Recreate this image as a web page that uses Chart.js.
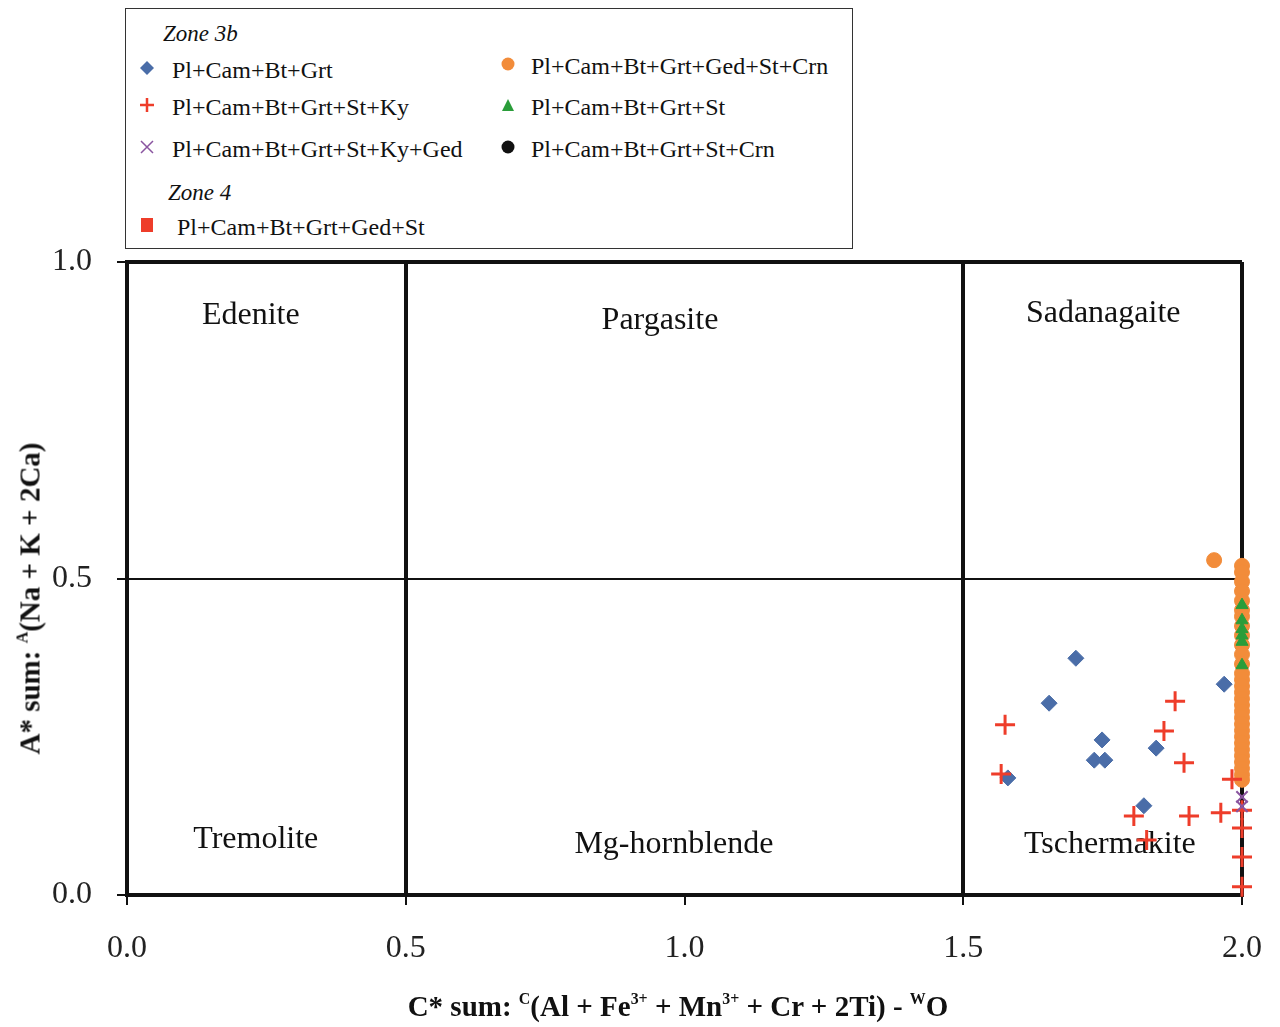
<!DOCTYPE html>
<html>
<head>
<meta charset="utf-8">
<script src="https://cdn.jsdelivr.net/npm/chart.js@4.4.1/dist/chart.umd.min.js"></script>
<style>
  body { margin: 0; background: #fff; }
  #wrap { position: relative; width: 1280px; height: 1027px; font-family: "Liberation Serif", "Times New Roman", serif; color: #111; }
  #chart { position: absolute; left: 0; top: 0; }
  #legend { position: absolute; left: 125px; top: 8px; width: 726px; height: 239px; border: 1.5px solid #333; background: #fff; }
  .lg { position: absolute; white-space: nowrap; line-height: 1; transform: translateY(-50%); font-family: "Liberation Serif", serif; }
  .lg.txt { font-size: 24px; }
  .lg.zone { font-size: 23px; font-style: italic; }
  .mk { position: absolute; transform: translate(-50%, -50%); }
  #xtitle { position: absolute; left: 378px; width: 600px; top: 990px; text-align: center; font-weight: bold; font-size: 29px; white-space: nowrap; }
  #ytitle { position: absolute; left: -170px; width: 400px; top: 582px; text-align: center; font-weight: bold; font-size: 29px; white-space: nowrap; transform: rotate(-90deg); }
  sup { font-size: 0.55em; vertical-align: 0.75em; line-height: 0; }
</style>
</head>
<body>
<div id="wrap">
  <canvas id="chart" width="1280" height="1027"></canvas>
  <div id="legend"></div>
  <div id="xtitle">C* sum: <sup>C</sup>(Al + Fe<sup>3+</sup> + Mn<sup>3+</sup> + Cr + 2Ti) - <sup>W</sup>O</div>
  <div id="ytitle">A* sum: <sup>A</sup>(Na + K + 2Ca)</div>
</div>
<script>
// --- Data ---
const xTicks = [0, 0.5, 1.0, 1.5, 2.0];
const yTicks = [0, 0.5, 1.0];

const zoneNames = ['Edenite', 'Pargasite', 'Sadanagaite', 'Tremolite', 'Mg-hornblende', 'Tschermakite'];

const seriesNames = [
    'Pl+Cam+Bt+Grt',
    'Pl+Cam+Bt+Grt+St+Ky',
    'Pl+Cam+Bt+Grt+St+Ky+Ged',
    'Pl+Cam+Bt+Grt+Ged+St+Crn',
    'Pl+Cam+Bt+Grt+St',
    'Pl+Cam+Bt+Grt+St+Crn',
    'Pl+Cam+Bt+Grt+Ged+St'
];

// Zone 3b
const grtX = [1.702, 1.654, 1.749, 1.735, 1.754, 1.846, 1.580, 1.824, 1.968];
const grtY = [0.374, 0.303, 0.245, 0.213, 0.213, 0.232, 0.185, 0.141, 0.333];

const kyX = [1.575, 1.568, 1.880, 1.860, 1.896, 1.806, 1.905, 1.829, 1.962, 1.982, 2.0, 2.0, 2.0, 2.0];
const kyY = [0.269, 0.191, 0.306, 0.259, 0.209, 0.125, 0.125, 0.087, 0.130, 0.183, 0.134, 0.106, 0.060, 0.013];

const kyGedX = [2.0, 2.0];
const kyGedY = [0.155, 0.140];

const gedCrnX = [1.95, 2.0, 2.0, 2.0, 2.0, 2.0, 2.0, 2.0, 2.0, 2.0, 2.0, 2.0, 2.0, 2.0, 2.0, 2.0,
                 2.0, 2.0, 2.0, 2.0, 2.0, 2.0, 2.0, 2.0, 2.0, 2.0, 2.0, 2.0, 2.0, 2.0, 2.0];
const gedCrnY = [0.529, 0.520, 0.510, 0.495, 0.480, 0.465, 0.450, 0.440, 0.425, 0.410, 0.395, 0.380, 0.365, 0.350, 0.340, 0.330,
                 0.320, 0.310, 0.300, 0.290, 0.280, 0.270, 0.260, 0.250, 0.240, 0.230, 0.220, 0.210, 0.200, 0.190, 0.182];

const stX = [2.0, 2.0, 2.0, 2.0, 2.0, 2.0];
const stY = [0.458, 0.434, 0.420, 0.410, 0.400, 0.363];

const stCrnX = [2.0, 2.0];
const stCrnY = [0.300, 0.270];

// Zone 4
const gedStX = [2.0, 2.0];
const gedStY = [0.240, 0.220];

// --- Helpers ---
const zip = (xs, ys) => xs.map((x, i) => ({ x: x, y: ys[i] }));
const FONT = '"Liberation Serif", "Times New Roman", serif';

const styles = [
    { color: '#4a6da8', shape: 'rectRot', r: 8, bw: 1, order: 4 },
    { color: '#ee3d2a', shape: 'cross', r: 10, bw: 3, order: 1 },
    { color: '#8a55a0', shape: 'crossRot', r: 8, bw: 2, order: 0 },
    { color: '#f28c3a', shape: 'circle', r: 7.5, bw: 1, order: 3 },
    { color: '#2a9d3a', shape: 'triangle', r: 7, bw: 1, order: 2 },
    { color: '#111111', shape: 'circle', r: 6, bw: 1, order: 6 },
    { color: '#ee3d2a', shape: 'rect', r: 8, bw: 1, order: 5 }
];
const seriesData = [
    zip(grtX, grtY), zip(kyX, kyY), zip(kyGedX, kyGedY), zip(gedCrnX, gedCrnY),
    zip(stX, stY), zip(stCrnX, stCrnY), zip(gedStX, gedStY)
];

// --- Legend (HTML) ---
const legendSlots = [
    { mx: 146, tx: 171, y: 69 }, { mx: 146, tx: 171, y: 106 }, { mx: 146, tx: 171, y: 148 },
    { mx: 507, tx: 530, y: 65 }, { mx: 507, tx: 530, y: 106 }, { mx: 507, tx: 530, y: 148 },
    { mx: 146, tx: 176, y: 226 }
];

function markerSvg(st) {
    const c = st.color;
    let body = '';
    switch (st.shape) {
        case 'rectRot': body = `<polygon points="8,1 15,8 8,15 1,8" fill="${c}"/>`; break;
        case 'cross': body = `<path d="M8,1V15M1,8H15" stroke="${c}" stroke-width="2.5"/>`; break;
        case 'crossRot': body = `<path d="M2,2L14,14M14,2L2,14" stroke="${c}" stroke-width="1.5"/>`; break;
        case 'circle': body = `<circle cx="8" cy="8" r="6.5" fill="${c}"/>`; break;
        case 'triangle': body = `<polygon points="8,2 14,14 2,14" fill="${c}"/>`; break;
        case 'rect': body = `<rect x="2" y="1" width="12" height="14" fill="${c}"/>`; break;
    }
    return `<svg width="16" height="16" viewBox="0 0 16 16">${body}</svg>`;
}

const legend = document.getElementById('legend');
const ox = 125, oy = 8;
let html = `<div class="lg zone" style="left:${162 - ox}px;top:${32 - oy}px">Zone 3b</div>`;
html += `<div class="lg zone" style="left:${167 - ox}px;top:${191 - oy}px">Zone 4</div>`;
seriesNames.forEach((name, i) => {
    const s = legendSlots[i];
    html += `<div class="mk" style="left:${s.mx - ox}px;top:${s.y - oy}px">${markerSvg(styles[i])}</div>`;
    html += `<div class="lg txt" style="left:${s.tx - ox}px;top:${s.y - oy}px">${name}</div>`;
});
legend.innerHTML = html;

// --- Zone labels plugin ---
const zoneLabelAt = [[0.222, 0.916], [0.956, 0.908], [1.751, 0.919], [0.231, 0.087], [0.981, 0.079], [1.763, 0.079]];
const zoneLabels = {
    id: 'zoneLabels',
    beforeDatasetsDraw(chart) {
        const { ctx, scales: { x, y } } = chart;
        ctx.save();
        ctx.font = '32px ' + FONT;
        ctx.fillStyle = '#111';
        ctx.textAlign = 'center';
        ctx.textBaseline = 'middle';
        zoneNames.forEach((n, i) => {
            ctx.fillText(n, x.getPixelForValue(zoneLabelAt[i][0]), y.getPixelForValue(zoneLabelAt[i][1]));
        });
        ctx.restore();
    }
};

// --- Chart ---
new Chart(document.getElementById('chart').getContext('2d'), {
    type: 'scatter',
    data: {
        datasets: seriesNames.map((name, i) => ({
            label: name,
            data: seriesData[i],
            pointStyle: styles[i].shape,
            pointRadius: styles[i].r,
            pointHoverRadius: styles[i].r,
            backgroundColor: styles[i].color,
            borderColor: styles[i].color,
            pointBorderWidth: styles[i].bw,
            order: styles[i].order,
            clip: false
        }))
    },
    options: {
        responsive: false,
        animation: false,
        layout: { padding: { top: 262, right: 38, left: 0, bottom: 0 } },
        plugins: { legend: { display: false }, tooltip: { enabled: false } },
        scales: {
            x: {
                type: 'linear', min: 0, max: 2,
                afterBuildTicks: s => { s.ticks = xTicks.map(v => ({ value: v })); },
                afterFit: s => { s.height = 132; s.paddingLeft = 0; s.paddingRight = 0; },
                ticks: { callback: v => v.toFixed(1), font: { family: FONT, size: 32 }, color: '#222', padding: 24 },
                grid: {
                    color: c => (c.tick && c.tick.value === 1) ? 'rgba(0,0,0,0)' : '#111',
                    lineWidth: 4, tickColor: '#111', tickLength: 10, tickWidth: 2
                },
                border: { display: true, color: '#111', width: 4 }
            },
            y: {
                type: 'linear', min: 0, max: 1,
                afterBuildTicks: s => { s.ticks = yTicks.map(v => ({ value: v })); },
                afterFit: s => { s.width = 127; s.paddingTop = 0; s.paddingBottom = 0; },
                ticks: { callback: v => v.toFixed(1), font: { family: FONT, size: 32 }, color: '#222', padding: 25 },
                grid: {
                    color: '#111',
                    lineWidth: c => (c.tick && c.tick.value === 0.5) ? 2 : 4,
                    tickColor: '#111', tickLength: 10, tickWidth: 2
                },
                border: { display: true, color: '#111', width: 4 }
            }
        }
    },
    plugins: [zoneLabels]
});
</script>
</body>
</html>
